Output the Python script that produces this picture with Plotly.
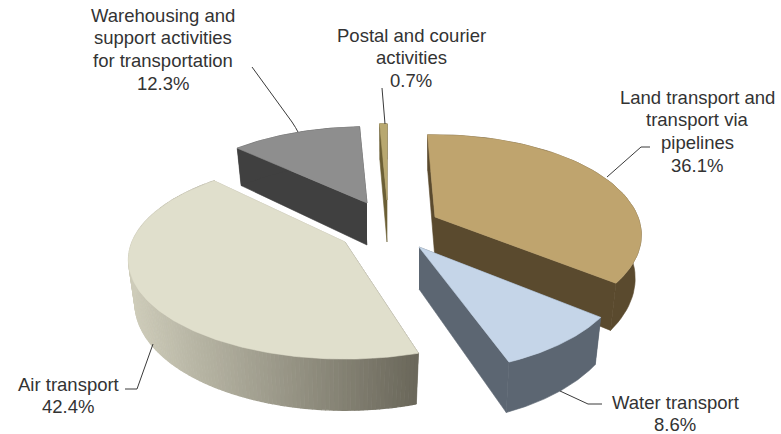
import numpy as np
import plotly.graph_objects as go

# ---- data ----
categories = ["Land transport", "Water transport", "Air transport",
              "Warehousing", "Postal"]
shares = [36.1, 8.6, 42.4, 12.3, 0.7]
label_texts = [
    ["Land transport and", "transport via", "pipelines"],
    ["Water transport"],
    ["Air transport"],
    ["Warehousing and", "support activities", "for transportation"],
    ["Postal and courier", "activities"],
]

# ---- styling / 3-D look of each slice ----
start_angle = [-2.5, 127.5, 163.4, 313.2, 357.5]
apex_x = [435, 419, 345, 367, 387]
apex_y = [217, 247, 242, 203, 200]
radius_x = [203, 204, 213, 200, 200]
radius_y = [97, 103, 96, 90, 90]
top_colors = ["#BFA46E", "#C5D5E8", "#E0DFCC", "#8E8E8E", "#B8A870"]
side_colors = ["#5A4A2E", "#5C6672", None, "#404040", "#6B5F35"]
label_x = [697, 675, 68, 163, 411]
label_top = [97, 402, 384, 15, 35]
LINE_GAP = 22.0
PERSP = 0.18
DEPTH = 42
CONVERGE = 0.97
TEXT = "#333333"
FONT = "Liberation Sans"


def project(theta_deg, i):
    t = np.radians(theta_deg)
    u, v = np.sin(t), np.cos(t)
    w = 1 + PERSP * v
    return (apex_x[i] + radius_x[i] * u / w,
            apex_y[i] - radius_y[i] * v / w,
            DEPTH / w)


def poly(fig, xs, ys, color, name=None, width=0.6):
    fig.add_trace(go.Scatter(
        x=list(xs), y=list(ys), mode="lines", fill="toself", fillcolor=color,
        line=dict(color=color, width=width), showlegend=False,
        hoverinfo="text" if name else "skip", text=name))


def lerp_air(x):
    f = float(np.clip((x - 128) / (416 - 128), 0, 1))
    a, b = np.array([0xCF, 0xCD, 0xBB]), np.array([0x6B, 0x68, 0x5B])
    c = a + (b - a) * f
    return "rgb(%d,%d,%d)" % tuple(c)


fig = go.Figure()
for i in [4, 3, 0, 1, 2]:
    start = start_angle[i]
    end = start + shares[i] * 3.6
    thetas = np.linspace(start, end, 161 if side_colors[i] is None else 61)
    px, py, pd = project(thetas, i)
    ax, ay = apex_x[i], apex_y[i]
    bx = ax + CONVERGE * (px - ax)
    by = py + pd
    side = side_colors[i]
    for j in (0, -1):
        c = side if side else lerp_air(px[j])
        poly(fig, [ax, px[j], bx[j], ax], [ay, py[j], by[j], ay + DEPTH], c)
    if side:
        poly(fig, np.r_[px, bx[::-1]], np.r_[py, by[::-1]], side)
    else:
        for k in range(len(px) - 1):
            poly(fig, [px[k], px[k + 1], bx[k + 1], bx[k]],
                 [py[k], py[k + 1], by[k + 1], by[k]],
                 lerp_air((px[k] + px[k + 1]) / 2), width=1.2)
    poly(fig, np.r_[ax, px, ax], np.r_[ay, py, ay], top_colors[i],
         name=f"{categories[i]}: {shares[i]}%")

for i, lines in enumerate(label_texts):
    for n, txt in enumerate(lines + [f"{shares[i]}%"]):
        gap = LINE_GAP + (0.8 if i != 1 else 0)
        fig.add_annotation(x=label_x[i], y=label_top[i] + n * gap, text=txt,
                           showarrow=False, xanchor="center", yanchor="middle",
                           align="center", borderpad=0,
                           font=dict(family=FONT, size=18.5, color=TEXT))

leaders = ["M252,67 L292,122 Q296,128 298,132",
           "M382,88 L385,124",
           "M650,147 L641,147 L607,177",
           "M560,391 L588,404 L602,404",
           "M153,344 L137,389 L125,389"]
for p in leaders:
    fig.add_shape(type="path", path=p, xref="x", yref="y",
                  line=dict(color="#3a3a3a", width=1))

fig.update_layout(
    width=781, height=434, margin=dict(l=0, r=0, t=0, b=0),
    paper_bgcolor="white", plot_bgcolor="white", showlegend=False,
    xaxis=dict(range=[0, 781], visible=False, fixedrange=True),
    yaxis=dict(range=[434, 0], visible=False, fixedrange=True),
)
fig.write_html("out.html", config={"displayModeBar": False},
               post_script="document.body.style.margin='0';")
